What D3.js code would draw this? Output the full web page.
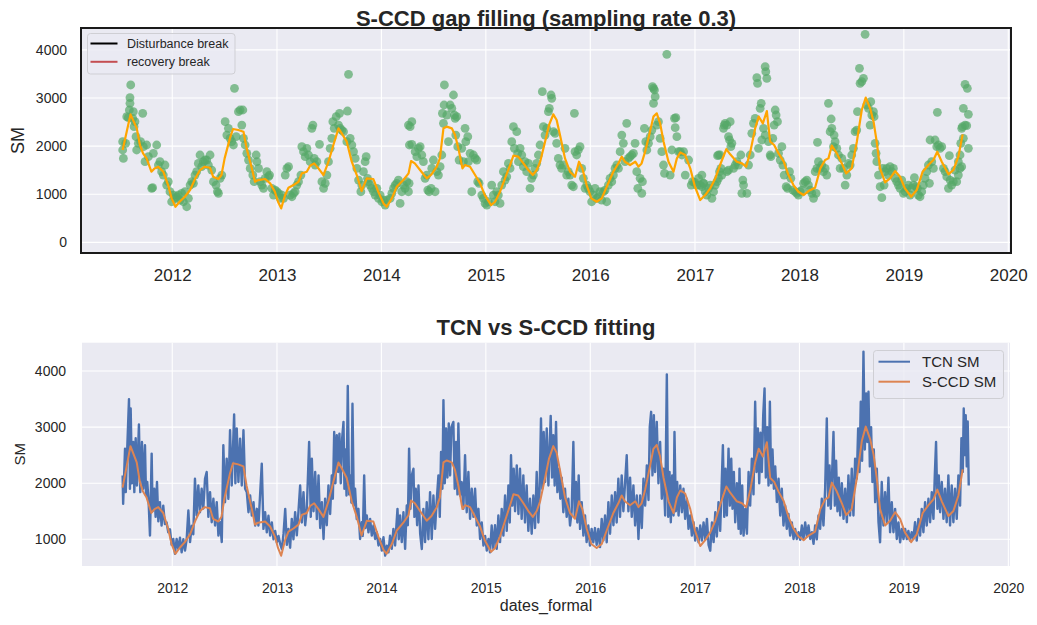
<!DOCTYPE html>
<html><head><meta charset="utf-8">
<script src="https://cdn.jsdelivr.net/npm/d3@7"></script>
<style>
body{margin:0;background:#fff;}
svg text{font-family:"Liberation Sans",Arial,sans-serif;fill:#262626;}
</style></head>
<body><div id="chart"></div>
<script>
// ---------- DATA ----------
const yearTicks = [2012,2013,2014,2015,2016,2017,2018,2019,2020];
const yTicksTop = [0,1000,2000,3000,4000];
const yTicksBottom = [1000,2000,3000,4000];
const legendTop = ["Disturbance break","recovery break"];
const legendBottom = ["TCN SM","S-CCD SM"];

// S-CCD fitted series [decimal year, SM]
const sccdSeries = [
[2011.525,1920],[2011.60,2660],[2011.66,2370],[2011.69,2024],[2011.72,1850],[2011.754,1746],[2011.80,1469],[2011.83,1538],[2011.866,1573],[2011.914,1469],[2011.96,1192],[2011.994,915],[2012.03,741],[2012.07,845],[2012.12,949],[2012.17,1088],[2012.22,1330],[2012.265,1504],[2012.31,1573],[2012.36,1552],[2012.39,1365],[2012.44,1317],[2012.47,1400],[2012.50,1746],[2012.55,2162],[2012.58,2356],[2012.63,2335],[2012.68,2300],[2012.71,1954],[2012.76,1538],[2012.79,1261],[2012.82,1296],[2012.887,1317],[2012.935,1227],[2012.98,1053],[2013.01,845],[2013.04,707],[2013.078,984],[2013.11,1137],[2013.158,1192],[2013.206,1261],[2013.238,1434],[2013.285,1469],[2013.317,1594],[2013.356,1642],[2013.397,1538],[2013.445,1400],[2013.493,1677],[2013.54,2024],[2013.589,2370],[2013.62,2266],[2013.668,2093],[2013.716,1677],[2013.764,1400],[2013.81,1067],[2013.86,1330],[2013.923,1317],[2013.97,1053],[2014.02,811],[2014.05,741],[2014.10,915],[2014.147,1157],[2014.21,1296],[2014.26,1434],[2014.284,1691],[2014.32,1642],[2014.37,1504],[2014.434,1330],[2014.48,1414],[2014.53,1573],[2014.56,1746],[2014.594,2370],[2014.626,2405],[2014.674,2370],[2014.705,2231],[2014.737,1954],[2014.776,1538],[2014.80,1608],[2014.849,1573],[2014.897,1400],[2014.945,1227],[2014.99,984],[2015.05,776],[2015.088,845],[2015.136,1053],[2015.184,1330],[2015.232,1608],[2015.264,1802],[2015.31,1781],[2015.36,1642],[2015.407,1504],[2015.45,1400],[2015.487,1504],[2015.52,1677],[2015.567,2093],[2015.605,2439],[2015.646,2661],[2015.678,2543],[2015.71,2231],[2015.758,1746],[2015.806,1469],[2015.854,1365],[2015.892,1677],[2015.924,1538],[2015.965,1192],[2016.01,915],[2016.061,845],[2016.109,915],[2016.157,1157],[2016.22,1469],[2016.268,1642],[2016.30,1781],[2016.33,1677],[2016.38,1608],[2016.43,1677],[2016.46,1573],[2016.49,1642],[2016.524,1885],[2016.57,2300],[2016.603,2613],[2016.635,2682],[2016.667,2474],[2016.70,2093],[2016.747,1677],[2016.795,1469],[2016.827,1746],[2016.86,1871],[2016.906,1816],[2016.955,1538],[2017.0,1157],[2017.05,880],[2017.098,984],[2017.146,1123],[2017.194,1330],[2017.24,1608],[2017.30,1940],[2017.337,1830],[2017.40,1677],[2017.45,1642],[2017.49,1573],[2017.53,1885],[2017.576,2370],[2017.61,2613],[2017.65,2474],[2017.688,2730],[2017.72,2093],[2017.758,2024],[2017.80,1850],[2017.85,1677],[2017.895,1400],[2017.943,1192],[2017.99,1053],[2018.04,984],[2018.087,1067],[2018.15,1137],[2018.2,1538],[2018.246,1712],[2018.278,1746],[2018.31,2010],[2018.358,1850],[2018.406,1642],[2018.447,1434],[2018.50,1538],[2018.55,2093],[2018.597,2751],[2018.635,3008],[2018.677,2786],[2018.71,2509],[2018.74,2093],[2018.772,1538],[2018.82,1247],[2018.868,1330],[2018.916,1483],[2018.964,1365],[2019.01,1123],[2019.07,949],[2019.123,1088],[2019.18,1469],[2019.235,1608],[2019.283,1712],[2019.32,1885],[2019.363,1677],[2019.427,1414],[2019.474,1504],[2019.522,1781],[2019.563,2245]
];

// TCN SM series [decimal year, SM]
const tcnSeries = [
[2011.525,2139],[2011.530,1632],[2011.548,2616],[2011.555,1841],[2011.563,2300],[2011.586,3498],[2011.595,1900],[2011.602,3330],[2011.615,2000],[2011.627,2735],[2011.637,1841],[2011.650,2800],[2011.662,1960],[2011.681,3045],[2011.694,1841],[2011.710,2735],[2011.723,1900],[2011.739,2676],[2011.749,1780],[2011.761,2020],[2011.774,1662],[2011.787,1066],[2011.803,2527],[2011.812,1500],[2011.828,1900],[2011.841,1400],[2011.854,2020],[2011.867,1320],[2011.882,1662],[2011.898,1245],[2011.914,1600],[2011.930,1270],[2011.946,1300],[2011.962,1125],[2011.978,1180],[2011.994,900],[2012.010,1006],[2012.026,740],[2012.042,1006],[2012.058,830],[2012.074,1030],[2012.090,767],[2012.106,1000],[2012.122,800],[2012.138,1006],[2012.154,1513],[2012.170,950],[2012.186,1240],[2012.201,1090],[2012.217,2080],[2012.233,1423],[2012.249,1960],[2012.265,1483],[2012.281,1900],[2012.297,1550],[2012.313,2079],[2012.329,2199],[2012.345,1400],[2012.361,1841],[2012.377,1304],[2012.393,1722],[2012.409,1245],[2012.425,1662],[2012.441,1066],[2012.457,1304],[2012.473,950],[2012.488,2675],[2012.504,1660],[2012.520,2437],[2012.536,1720],[2012.552,2944],[2012.568,1960],[2012.591,3224],[2012.603,2000],[2012.616,2974],[2012.632,2020],[2012.648,2795],[2012.664,1960],[2012.680,2944],[2012.696,1900],[2012.712,1841],[2012.728,1483],[2012.744,1781],[2012.760,1423],[2012.776,1662],[2012.792,1245],[2012.808,1543],[2012.823,1245],[2012.855,2348],[2012.871,1185],[2012.887,1483],[2012.903,1125],[2012.919,1420],[2012.935,1066],[2012.951,1300],[2012.967,1000],[2012.983,1150],[2012.999,946],[2013.015,1060],[2013.031,917],[2013.047,827],[2013.063,1100],[2013.079,1543],[2013.095,900],[2013.110,1185],[2013.126,850],[2013.142,1364],[2013.158,1000],[2013.174,1483],[2013.190,1070],[2013.206,1500],[2013.222,1960],[2013.238,1300],[2013.254,1841],[2013.270,1250],[2013.286,1543],[2013.308,2735],[2013.324,1400],[2013.334,2437],[2013.350,1500],[2013.366,2199],[2013.382,1360],[2013.398,2139],[2013.414,1200],[2013.430,1662],[2013.446,1006],[2013.461,1722],[2013.477,1250],[2013.493,1960],[2013.509,1450],[2013.525,2139],[2013.535,1722],[2013.548,2914],[2013.560,2000],[2013.573,2854],[2013.586,2200],[2013.598,2884],[2013.611,2000],[2013.624,2795],[2013.637,3093],[2013.646,1900],[2013.656,2600],[2013.666,1781],[2013.678,3731],[2013.691,1800],[2013.704,2139],[2013.713,1650],[2013.723,3415],[2013.736,1600],[2013.748,1900],[2013.764,1360],[2013.780,1543],[2013.796,1006],[2013.812,1304],[2013.822,1060],[2013.835,2139],[2013.847,1200],[2013.860,1423],[2013.876,1125],[2013.892,1364],[2013.908,1066],[2013.924,1245],[2013.940,1006],[2013.956,1125],[2013.972,890],[2013.988,1006],[2014.004,800],[2014.020,1036],[2014.036,708],[2014.052,887],[2014.068,767],[2014.083,1066],[2014.099,830],[2014.115,1185],[2014.131,890],[2014.154,1543],[2014.166,1000],[2014.179,1423],[2014.195,950],[2014.211,1483],[2014.227,830],[2014.243,1602],[2014.253,1250],
[2014.265,2616],[2014.278,1543],[2014.291,2139],[2014.307,2258],[2014.316,1400],[2014.329,1900],[2014.342,1250],[2014.355,1960],[2014.371,1100],[2014.387,827],[2014.402,1543],[2014.418,950],[2014.434,1662],[2014.450,1000],[2014.466,1841],[2014.482,1006],[2014.498,1781],[2014.514,1185],[2014.530,1700],[2014.546,2139],[2014.559,1400],[2014.571,2556],[2014.584,1900],[2014.594,3481],[2014.607,2000],[2014.619,2974],[2014.632,2100],[2014.645,3063],[2014.658,2139],[2014.670,3000],[2014.689,3093],[2014.702,1900],[2014.715,2735],[2014.728,1800],[2014.737,3063],[2014.753,1781],[2014.769,2020],[2014.785,1543],[2014.801,2497],[2014.817,1483],[2014.833,2199],[2014.849,1364],[2014.865,1900],[2014.881,1400],[2014.897,1900],[2014.913,1245],[2014.929,1543],[2014.945,1006],[2014.961,1300],[2014.977,887],[2014.993,1060],[2015.009,800],[2015.025,1006],[2015.040,767],[2015.056,1245],[2015.072,827],[2015.088,1250],[2015.104,830],[2015.120,1423],[2015.136,950],[2015.152,1543],[2015.168,1066],[2015.184,1781],[2015.200,1150],[2015.216,1960],[2015.229,1300],[2015.241,2497],[2015.254,1600],[2015.267,2258],[2015.280,1500],[2015.296,2318],[2015.312,1450],[2015.327,2258],[2015.343,1364],[2015.359,2139],[2015.375,1300],[2015.391,1960],[2015.407,1150],[2015.423,1722],[2015.439,1100],[2015.455,1781],[2015.471,1200],[2015.487,2199],[2015.503,1300],[2015.516,1960],[2015.528,3153],[2015.541,1900],[2015.554,2914],[2015.567,2020],[2015.583,2974],[2015.599,1960],[2015.621,3200],[2015.634,2100],[2015.646,2854],[2015.659,1960],[2015.672,3093],[2015.685,1841],[2015.701,2258],[2015.713,1722],[2015.726,2100],[2015.742,1483],[2015.758,1900],[2015.774,1400],[2015.790,1722],[2015.806,1245],[2015.822,1500],[2015.838,2735],[2015.851,1400],[2015.863,2020],[2015.876,1300],[2015.889,2139],[2015.902,1185],[2015.918,1662],[2015.934,1066],[2015.950,1423],[2015.965,950],[2015.981,1245],[2015.997,887],[2016.013,1185],[2016.029,946],[2016.045,1200],[2016.061,900],[2016.077,1185],[2016.093,860],[2016.109,1364],[2016.125,980],[2016.141,1423],[2016.157,946],[2016.173,1662],[2016.189,1100],[2016.205,1781],[2016.221,1250],[2016.237,1841],[2016.252,1300],[2016.268,2079],[2016.284,1400],[2016.300,2139],[2016.316,1500],[2016.332,2000],[2016.348,2497],[2016.364,1500],[2016.380,2100],[2016.396,1400],[2016.412,1960],[2016.428,1245],[2016.444,1781],[2016.460,1006],[2016.476,1781],[2016.492,1200],[2016.508,2079],[2016.524,1600],[2016.540,2318],[2016.556,1700],[2016.568,3000],[2016.581,3272],[2016.594,2139],[2016.607,3212],[2016.619,2200],[2016.635,3093],[2016.651,2000],[2016.667,2735],[2016.683,1722],[2016.699,2258],[2016.715,1423],[2016.731,3940],[2016.744,1400],[2016.757,2200],[2016.769,1304],[2016.782,2139],[2016.795,1423],[2016.804,2914],[2016.817,1500],[2016.830,2020],[2016.843,1423],[2016.859,1960],[2016.875,1483],[2016.890,1900],[2016.906,1364],[2016.922,1722],[2016.938,1185],[2016.954,1423],[2016.970,1066],[2016.986,1304],[2017.002,976],[2017.018,1200],[2017.034,946],[2017.050,1245],[2017.066,976],[2017.082,1300],
[2017.098,1000],[2017.114,1364],[2017.130,900],[2017.146,797],[2017.162,1300],[2017.178,950],[2017.194,1483],[2017.209,1050],[2017.225,1662],[2017.241,1150],[2017.254,1900],[2017.267,2676],[2017.280,1400],[2017.292,2258],[2017.305,1423],[2017.321,2616],[2017.334,1600],[2017.347,2437],[2017.359,1543],[2017.372,2200],[2017.385,1304],[2017.401,2000],[2017.417,1185],[2017.426,2258],[2017.439,1100],[2017.452,1960],[2017.465,1066],[2017.481,1543],[2017.497,1100],[2017.513,2199],[2017.528,1600],[2017.544,2437],[2017.560,1800],[2017.576,3451],[2017.589,2200],[2017.602,2974],[2017.615,2000],[2017.627,2900],[2017.640,2200],[2017.653,3212],[2017.666,3689],[2017.678,2100],[2017.691,3000],[2017.704,1960],[2017.717,3451],[2017.729,2000],[2017.742,2600],[2017.755,1900],[2017.768,2300],[2017.784,1664],[2017.800,2079],[2017.816,1423],[2017.831,1900],[2017.847,1245],[2017.863,1600],[2017.879,1185],[2017.895,1450],[2017.911,1066],[2017.927,1300],[2017.943,1006],[2017.959,1185],[2017.975,1006],[2017.991,1125],[2018.007,990],[2018.023,1245],[2018.039,1006],[2018.055,1300],[2018.071,1050],[2018.087,1245],[2018.103,1006],[2018.119,1125],[2018.135,920],[2018.150,1245],[2018.166,1000],[2018.182,1423],[2018.198,1185],[2018.214,1722],[2018.230,1245],[2018.246,1900],[2018.262,3153],[2018.275,1600],[2018.288,2318],[2018.300,1543],[2018.313,2200],[2018.326,2914],[2018.339,1600],[2018.351,2400],[2018.364,1500],[2018.377,2100],[2018.390,1423],[2018.406,2000],[2018.422,1364],[2018.438,1900],[2018.454,1304],[2018.469,2139],[2018.485,1423],[2018.501,2258],[2018.517,1423],[2018.533,2437],[2018.549,2079],[2018.562,2974],[2018.575,2200],[2018.587,3451],[2018.600,2400],[2018.613,4345],[2018.626,2600],[2018.639,3600],[2018.651,2735],[2018.661,3630],[2018.674,2300],[2018.686,3000],[2018.699,2020],[2018.712,2600],[2018.725,1662],[2018.741,2258],[2018.757,1304],[2018.772,946],[2018.788,2020],[2018.804,1245],[2018.820,1840],[2018.836,1304],[2018.852,2100],[2018.868,1125],[2018.884,1662],[2018.900,1125],[2018.916,1543],[2018.932,1006],[2018.948,1300],[2018.964,946],[2018.980,1185],[2018.996,1006],[2019.012,1185],[2019.028,1006],[2019.043,1150],[2019.059,976],[2019.075,1125],[2019.091,1006],[2019.107,1304],[2019.123,976],[2019.139,1364],[2019.155,1066],[2019.171,1543],[2019.187,1125],[2019.203,1662],[2019.219,1245],[2019.235,1722],[2019.251,1304],[2019.267,1841],[2019.283,1364],[2019.296,2139],[2019.308,2735],[2019.321,1543],[2019.334,2139],[2019.347,1483],[2019.363,2020],[2019.379,1364],[2019.394,1900],[2019.410,1304],[2019.426,2139],[2019.442,1245],[2019.458,1960],[2019.474,1304],[2019.490,1900],[2019.506,1364],[2019.522,2139],[2019.538,1600],[2019.551,2800],[2019.564,2200],[2019.573,3332],[2019.583,2500],[2019.592,3212],[2019.602,2300],[2019.611,3100],[2019.621,1960]
];

// sampled observations (sampling rate 0.3) [decimal year, SM]
const sampledObs = [
[2011.525,1920],[2011.532,1746],[2011.525,2093],[2011.554,2058],[2011.564,2613],[2011.579,2592],[2011.589,2751],[2011.595,2890],[2011.595,3008],[2011.602,3271],[2011.621,2578],[2011.627,2717],[2011.634,2405],[2011.643,2509],[2011.653,2197],[2011.659,1920],[2011.675,2058],[2011.697,2093],[2011.717,2682],[2011.723,1989],[2011.739,1677],[2011.755,2024],[2011.771,1781],[2011.803,1123],[2011.812,1137],[2011.819,1850],[2011.851,2024],[2011.867,1608],[2011.882,1677],[2011.898,1469],[2011.914,1400],[2011.930,1608],[2011.946,1192],[2011.962,1261],[2011.978,1053],[2011.994,845],[2012.010,984],[2012.026,915],[2012.042,949],[2012.058,984],[2012.074,880],[2012.090,1019],[2012.106,845],[2012.122,1053],[2012.138,741],[2012.154,915],[2012.170,1192],[2012.186,1261],[2012.202,1227],[2012.217,1400],[2012.233,1469],[2012.249,1642],[2012.265,1816],[2012.281,1573],[2012.297,1677],[2012.313,1712],[2012.329,1712],[2012.345,1608],[2012.361,1816],[2012.377,1504],[2012.393,1261],[2012.418,1192],[2012.431,1053],[2012.441,1019],[2012.457,1331],[2012.473,1400],[2012.505,2509],[2012.521,2231],[2012.536,2370],[2012.552,2162],[2012.568,2093],[2012.584,2024],[2012.594,3202],[2012.610,2197],[2012.632,2717],[2012.648,2751],[2012.674,2751],[2012.664,2439],[2012.680,2162],[2012.696,2024],[2012.712,1850],[2012.728,1712],[2012.744,1538],[2012.769,1400],[2012.782,1261],[2012.801,1816],[2012.808,1677],[2012.824,1538],[2012.840,1261],[2012.855,1192],[2012.871,1123],[2012.887,1331],[2012.903,1469],[2012.919,1365],[2012.929,1400],[2012.951,1123],[2012.967,984],[2012.983,1088],[2012.999,1053],[2013.015,1019],[2013.031,915],[2013.047,984],[2013.063,915],[2013.079,1400],[2013.095,1538],[2013.111,1573],[2013.127,984],[2013.143,949],[2013.159,1019],[2013.174,1053],[2013.190,1192],[2013.206,1261],[2013.229,1400],[2013.238,1989],[2013.254,1885],[2013.270,1781],[2013.286,1954],[2013.302,1816],[2013.318,1677],[2013.334,2370],[2013.344,2439],[2013.356,1746],[2013.366,1608],[2013.382,1677],[2013.407,2037],[2013.430,1261],[2013.446,1123],[2013.462,1227],[2013.478,1400],[2013.493,1677],[2013.509,1954],[2013.525,2162],[2013.535,2509],[2013.548,2370],[2013.567,2613],[2013.589,2439],[2013.599,2682],[2013.605,2370],[2013.621,2335],[2013.637,2301],[2013.669,2093],[2013.685,3493],[2013.675,2730],[2013.701,2162],[2013.717,2024],[2013.733,1885],[2013.749,1746],[2013.765,1538],[2013.781,1296],[2013.803,1053],[2013.812,1192],[2013.828,1469],[2013.844,1677],[2013.854,1781],[2013.867,1331],[2013.876,1261],[2013.892,1192],[2013.908,1123],[2013.924,1053],[2013.940,984],[2013.956,1123],[2013.972,915],[2013.988,984],[2014.004,845],[2014.020,880],[2014.036,776],[2014.052,880],[2014.084,915],[2014.100,1019],[2014.116,1123],[2014.131,1192],[2014.147,1227],[2014.163,1296],[2014.179,811],[2014.195,1053],[2014.211,1192],[2014.227,1123],[2014.243,1261],[2014.259,2439],[2014.268,2024],
[2014.259,1053],[2014.265,1227],[2014.275,2405],[2014.291,2509],[2014.291,2037],[2014.323,1885],[2014.339,1781],[2014.355,1954],[2014.371,1989],[2014.387,1816],[2014.402,1677],[2014.418,1331],[2014.434,1400],[2014.444,1088],[2014.457,1053],[2014.476,1123],[2014.482,1538],[2014.498,1712],[2014.514,1053],[2014.530,1469],[2014.546,1400],[2014.562,1573],[2014.578,1816],[2014.584,2682],[2014.594,2474],[2014.600,2855],[2014.603,3271],[2014.626,2647],[2014.642,2093],[2014.658,2855],[2014.674,2786],[2014.690,3063],[2014.699,2647],[2014.706,2578],[2014.721,2613],[2014.712,2231],[2014.731,1989],[2014.744,1712],[2014.769,1954],[2014.785,1677],[2014.801,2370],[2014.808,2093],[2014.827,2197],[2014.833,1677],[2014.849,1850],[2014.865,1053],[2014.881,1816],[2014.897,1746],[2014.913,1712],[2014.922,1261],[2014.935,1227],[2014.961,984],[2014.977,915],[2014.993,811],[2015.009,776],[2015.025,845],[2015.056,1192],[2015.072,984],[2015.088,845],[2015.104,1053],[2015.120,984],[2015.136,811],[2015.152,1192],[2015.168,1469],[2015.184,1296],[2015.200,1365],[2015.216,1642],[2015.232,1538],[2015.248,2093],[2015.264,2405],[2015.273,1954],[2015.296,2301],[2015.305,1850],[2015.312,1677],[2015.328,1954],[2015.344,1816],[2015.359,1573],[2015.375,1677],[2015.391,1469],[2015.407,1642],[2015.423,1123],[2015.439,1331],[2015.455,1400],[2015.471,1538],[2015.487,1642],[2015.503,1816],[2015.519,2024],[2015.541,3132],[2015.551,2405],[2015.567,2231],[2015.583,2370],[2015.599,2717],[2015.608,2786],[2015.624,3063],[2015.631,2994],[2015.647,2301],[2015.663,2266],[2015.678,2058],[2015.694,1746],[2015.710,1608],[2015.726,1538],[2015.742,1608],[2015.758,1954],[2015.774,1400],[2015.790,1469],[2015.806,1400],[2015.822,1192],[2015.838,1157],[2015.848,2682],[2015.854,1885],[2015.870,1816],[2015.886,1920],[2015.902,1989],[2015.918,1538],[2015.934,1331],[2015.950,1123],[2015.966,1192],[2015.982,1123],[2015.997,1053],[2016.013,845],[2016.029,984],[2016.045,1123],[2016.061,915],[2016.077,949],[2016.093,1053],[2016.109,880],[2016.125,1053],[2016.141,1088],[2016.157,845],[2016.173,1192],[2016.189,1331],[2016.205,1261],[2016.221,1400],[2016.237,1538],[2016.253,1608],[2016.269,1538],[2016.285,1885],[2016.301,2231],[2016.316,2058],[2016.332,1677],[2016.348,2474],[2016.364,1746],[2016.380,1781],[2016.396,1816],[2016.412,1850],[2016.428,2058],[2016.444,1469],[2016.454,1123],[2016.476,1331],[2016.492,1019],[2016.498,1261],[2016.517,2370],[2016.530,2093],[2016.540,1920],[2016.556,2058],[2016.572,2197],[2016.588,2335],[2016.594,3236],[2016.604,3202],[2016.613,3167],[2016.604,2890],[2016.620,3028],[2016.635,2439],[2016.651,2509],[2016.667,2162],[2016.683,1885],[2016.699,1608],[2016.709,1434],[2016.731,3909],[2016.763,1400],[2016.779,1920],[2016.804,2578],[2016.817,2592],[2016.811,2384],[2016.827,2197],[2016.843,1885],[2016.859,1885],[2016.875,1816],[2016.891,1885],[2016.907,1400],[2016.939,1712],[2016.964,1192],[2016.977,1261],[2016.996,1247],[2017.018,1192],[2017.034,1331],[2017.050,1192],[2017.066,1400],[2017.082,1227],
[2017.066,1157],[2017.082,1227],[2017.098,1053],[2017.114,984],[2017.130,1123],[2017.146,1192],[2017.162,915],[2017.178,1053],[2017.194,1192],[2017.210,1261],[2017.225,1331],[2017.235,1469],[2017.248,1538],[2017.257,1400],[2017.216,1802],[2017.225,1816],[2017.241,1816],[2017.273,2370],[2017.280,2439],[2017.289,2474],[2017.305,2439],[2017.321,2197],[2017.337,2509],[2017.331,2128],[2017.343,1989],[2017.353,2058],[2017.369,1538],[2017.321,1504],[2017.305,1469],[2017.385,1608],[2017.401,1677],[2017.417,1608],[2017.439,1816],[2017.458,1296],[2017.465,1192],[2017.449,1019],[2017.497,1019],[2017.513,1608],[2017.529,1816],[2017.544,2266],[2017.560,2474],[2017.576,2578],[2017.592,3423],[2017.599,3306],[2017.608,1954],[2017.624,2786],[2017.634,2890],[2017.640,2128],[2017.656,2370],[2017.672,3652],[2017.678,3548],[2017.688,3410],[2017.672,2231],[2017.704,2093],[2017.720,1816],[2017.726,1781],[2017.745,2162],[2017.758,2439],[2017.768,2751],[2017.777,2647],[2017.790,2509],[2017.800,1850],[2017.816,1712],[2017.832,1989],[2017.841,1608],[2017.854,1400],[2017.873,1157],[2017.886,1123],[2017.905,1469],[2017.918,1331],[2017.937,1088],[2017.959,1053],[2017.975,1019],[2017.991,984],[2018.007,1053],[2018.023,1088],[2018.039,1227],[2018.055,1261],[2018.071,1296],[2018.087,1192],[2018.103,1088],[2018.119,1019],[2018.135,915],[2018.160,1019],[2018.151,1469],[2018.167,1538],[2018.173,2079],[2018.182,1677],[2018.198,1538],[2018.214,1608],[2018.230,1469],[2018.246,1538],[2018.262,1400],[2018.278,2890],[2018.294,2301],[2018.304,2564],[2018.310,2370],[2018.326,1989],[2018.332,2231],[2018.342,2093],[2018.358,1954],[2018.374,1816],[2018.390,1538],[2018.406,1746],[2018.422,1538],[2018.438,1192],[2018.454,1400],[2018.470,1642],[2018.486,1608],[2018.501,1816],[2018.517,1954],[2018.533,2301],[2018.549,2335],[2018.556,2717],[2018.575,3617],[2018.581,3306],[2018.597,3340],[2018.613,3410],[2018.629,4324],[2018.645,2855],[2018.661,2786],[2018.677,2439],[2018.683,2924],[2018.693,2647],[2018.709,2717],[2018.715,2613],[2018.725,2058],[2018.734,1850],[2018.741,1677],[2018.757,1400],[2018.773,1157],[2018.789,929],[2018.798,1538],[2018.811,1192],[2018.820,1469],[2018.836,1538],[2018.852,1400],[2018.868,1573],[2018.884,1469],[2018.900,1538],[2018.916,1331],[2018.932,1261],[2018.948,1192],[2018.964,1123],[2018.980,1296],[2018.996,1019],[2019.012,1053],[2019.028,1123],[2019.044,1192],[2019.060,984],[2019.076,1123],[2019.092,1192],[2019.101,1344],[2019.117,1157],[2019.130,1123],[2019.139,984],[2019.155,949],[2019.171,1053],[2019.187,1192],[2019.203,1331],[2019.219,1469],[2019.235,1608],[2019.245,1227],[2019.251,2128],[2019.267,1677],[2019.283,1538],[2019.299,2128],[2019.315,1989],[2019.321,2703],[2019.331,2024],[2019.347,1954],[2019.363,1989],[2019.379,1538],[2019.395,1469],[2019.411,1365],[2019.427,1123],[2019.436,1802],[2019.443,1296],[2019.458,1192],[2019.474,1261],[2019.490,1504],[2019.506,1261],[2019.522,1677],[2019.538,1816],[2019.545,2058],[2019.554,2370],[2019.561,2405],[2019.570,2786],[2019.586,3285],[2019.602,2426],[2019.608,3202],[2019.618,2661],[2019.618,1954],[2019.570,2162],[2019.554,1573],[2019.538,1538],[2019.522,1400],[2019.586,2439]
];

// ---------- HELPERS ----------
function toDate(y){
  const yr = Math.floor(y);
  const s = Date.UTC(yr,0,1), e = Date.UTC(yr+1,0,1);
  return new Date(s + (y-yr)*(e-s));
}
const W=1037, H=625;
const BG="#EAEAF2";
const svg = d3.select("#chart").append("svg").attr("width",W).attr("height",H);

// ---------- TOP PANEL ----------
const T = {l:81, r:1011, t:28, b:253};
const xTop = d3.scaleUtc().domain([toDate(2011.126), toDate(2020.026)]).range([T.l, T.r]);
const yTop = d3.scaleLinear().domain([-220, 4455]).range([T.b, T.t]);

svg.append("rect").attr("x",T.l).attr("y",T.t).attr("width",T.r-T.l).attr("height",T.b-T.t).attr("fill",BG);
const defs = svg.append("defs");
defs.append("clipPath").attr("id","clipTop").append("rect").attr("x",T.l).attr("y",T.t).attr("width",T.r-T.l).attr("height",T.b-T.t);
defs.append("clipPath").attr("id","clipBot").append("rect").attr("x",82).attr("y",342.7).attr("width",928).attr("height",223.3);

const gTop = svg.append("g");
gTop.selectAll("line.vg").data(yearTicks).join("line")
  .attr("x1",d=>xTop(toDate(d))).attr("x2",d=>xTop(toDate(d)))
  .attr("y1",T.t).attr("y2",T.b).attr("stroke","#fff").attr("stroke-width",1.1);
gTop.selectAll("line.hg").data(yTicksTop).join("line")
  .attr("x1",T.l).attr("x2",T.r).attr("y1",d=>yTop(d)).attr("y2",d=>yTop(d))
  .attr("stroke","#fff").attr("stroke-width",1.1);

const dataTop = svg.append("g").attr("clip-path","url(#clipTop)");
dataTop.selectAll("circle").data(sampledObs).join("circle")
  .attr("cx",d=>xTop(toDate(d[0]))).attr("cy",d=>yTop(d[1])).attr("r",4.4)
  .attr("fill","#55A868").attr("fill-opacity",0.7);
const lineTop = d3.line().x(d=>xTop(toDate(d[0]))).y(d=>yTop(d[1]));
dataTop.append("path").datum(sccdSeries).attr("d",lineTop)
  .attr("fill","none").attr("stroke","#FFA500").attr("stroke-width",2.2).attr("stroke-linejoin","round");

// axes top
const axTopX = svg.append("g").attr("transform",`translate(0,${T.b})`)
  .call(d3.axisBottom(xTop).tickValues(yearTicks.map(toDate)).tickFormat(d3.utcFormat("%Y")).tickSize(0));
axTopX.select(".domain").remove();
axTopX.selectAll("text").attr("y",28).attr("dy",null).style("font-size","17px").attr("fill","#262626");
const axTopY = svg.append("g").attr("transform",`translate(${T.l},0)`)
  .call(d3.axisLeft(yTop).tickValues(yTicksTop).tickFormat(d3.format("d")).tickSize(0));
axTopY.select(".domain").remove();
axTopY.selectAll("text").attr("x",-14).style("font-size","14px").attr("fill","#262626");

// spines
svg.append("rect").attr("x",T.l).attr("y",T.t).attr("width",T.r-T.l).attr("height",T.b-T.t)
  .attr("fill","none").attr("stroke","#1a1a1a").attr("stroke-width",2);

svg.append("text").attr("x",(T.l+T.r)/2).attr("y",25.5).attr("text-anchor","middle")
  .style("font-size","22px").style("font-weight","bold").text("S-CCD gap filling (sampling rate 0.3)");
svg.append("text").attr("transform",`translate(24,${(T.t+T.b)/2}) rotate(-90)`).attr("text-anchor","middle")
  .style("font-size","18px").text("SM");

// legend top
const lgT = svg.append("g");
lgT.append("rect").attr("x",87.5).attr("y",33.5).attr("width",147.5).attr("height",40.5).attr("rx",3)
  .attr("fill",BG).attr("fill-opacity",0.8).attr("stroke","#cfcfd4").attr("stroke-width",1);
const lgTColors = ["#000000","#C44E52"];
legendTop.forEach((name,i)=>{
  const yy = 43.5 + i*18.3;
  lgT.append("line").attr("x1",90.5).attr("x2",117.5).attr("y1",yy).attr("y2",yy).attr("stroke",lgTColors[i]).attr("stroke-width",2);
  lgT.append("text").attr("x",127).attr("y",yy+4.5).style("font-size","12.5px").text(name);
});

// ---------- BOTTOM PANEL ----------
const B = {l:82, r:1010, t:342.7, b:566};
const xBot = d3.scaleUtc().domain([toDate(2011.136), toDate(2020.016)]).range([B.l, B.r]);
const yBot = d3.scaleLinear().domain([524, 4504]).range([B.b, B.t]);

svg.append("rect").attr("x",B.l).attr("y",B.t).attr("width",B.r-B.l).attr("height",B.b-B.t).attr("fill",BG);
const gBot = svg.append("g");
gBot.selectAll("line.vg").data(yearTicks).join("line")
  .attr("x1",d=>xBot(toDate(d))).attr("x2",d=>xBot(toDate(d)))
  .attr("y1",B.t).attr("y2",B.b).attr("stroke","#fff").attr("stroke-width",1.1);
gBot.selectAll("line.hg").data(yTicksBottom).join("line")
  .attr("x1",B.l).attr("x2",B.r).attr("y1",d=>yBot(d)).attr("y2",d=>yBot(d))
  .attr("stroke","#fff").attr("stroke-width",1.1);

const dataBot = svg.append("g").attr("clip-path","url(#clipBot)");
const lineBot = d3.line().x(d=>xBot(toDate(d[0]))).y(d=>yBot(d[1]));
dataBot.append("path").datum(tcnSeries).attr("d",lineBot)
  .attr("fill","none").attr("stroke","#4C72B0").attr("stroke-width",2.4).attr("stroke-linejoin","round");
dataBot.append("path").datum(sccdSeries).attr("d",lineBot)
  .attr("fill","none").attr("stroke","#DD8452").attr("stroke-width",2).attr("stroke-linejoin","round");

const axBotX = svg.append("g").attr("transform",`translate(0,${B.b})`)
  .call(d3.axisBottom(xBot).tickValues(yearTicks.map(toDate)).tickFormat(d3.utcFormat("%Y")).tickSize(0));
axBotX.select(".domain").remove();
axBotX.selectAll("text").attr("y",26.5).attr("dy",null).style("font-size","14px").attr("fill","#262626");
const axBotY = svg.append("g").attr("transform",`translate(${B.l},0)`)
  .call(d3.axisLeft(yBot).tickValues(yTicksBottom).tickFormat(d3.format("d")).tickSize(0));
axBotY.select(".domain").remove();
axBotY.selectAll("text").attr("x",-16).style("font-size","14px").attr("fill","#262626");

svg.append("text").attr("x",(B.l+B.r)/2).attr("y",334.5).attr("text-anchor","middle")
  .style("font-size","22px").style("font-weight","bold").text("TCN vs S-CCD fitting");
svg.append("text").attr("transform",`translate(24.5,${(B.t+B.b)/2}) rotate(-90)`).attr("text-anchor","middle")
  .style("font-size","15px").text("SM");
svg.append("text").attr("x",(B.l+B.r)/2).attr("y",611).attr("text-anchor","middle")
  .style("font-size","16px").text("dates_formal");

// legend bottom
const lgB = svg.append("g");
lgB.append("rect").attr("x",873.5).attr("y",350.5).attr("width",130).attr("height",48).attr("rx",3)
  .attr("fill",BG).attr("fill-opacity",0.8).attr("stroke","#cfcfd4").attr("stroke-width",1);
const lgBColors = ["#4C72B0","#DD8452"];
legendBottom.forEach((name,i)=>{
  const yy = 361.7 + i*20;
  lgB.append("line").attr("x1",878.5).attr("x2",910).attr("y1",yy).attr("y2",yy).attr("stroke",lgBColors[i]).attr("stroke-width",2);
  lgB.append("text").attr("x",922).attr("y",yy+5.3).style("font-size","15px").text(name);
});
</script>
</body></html>
